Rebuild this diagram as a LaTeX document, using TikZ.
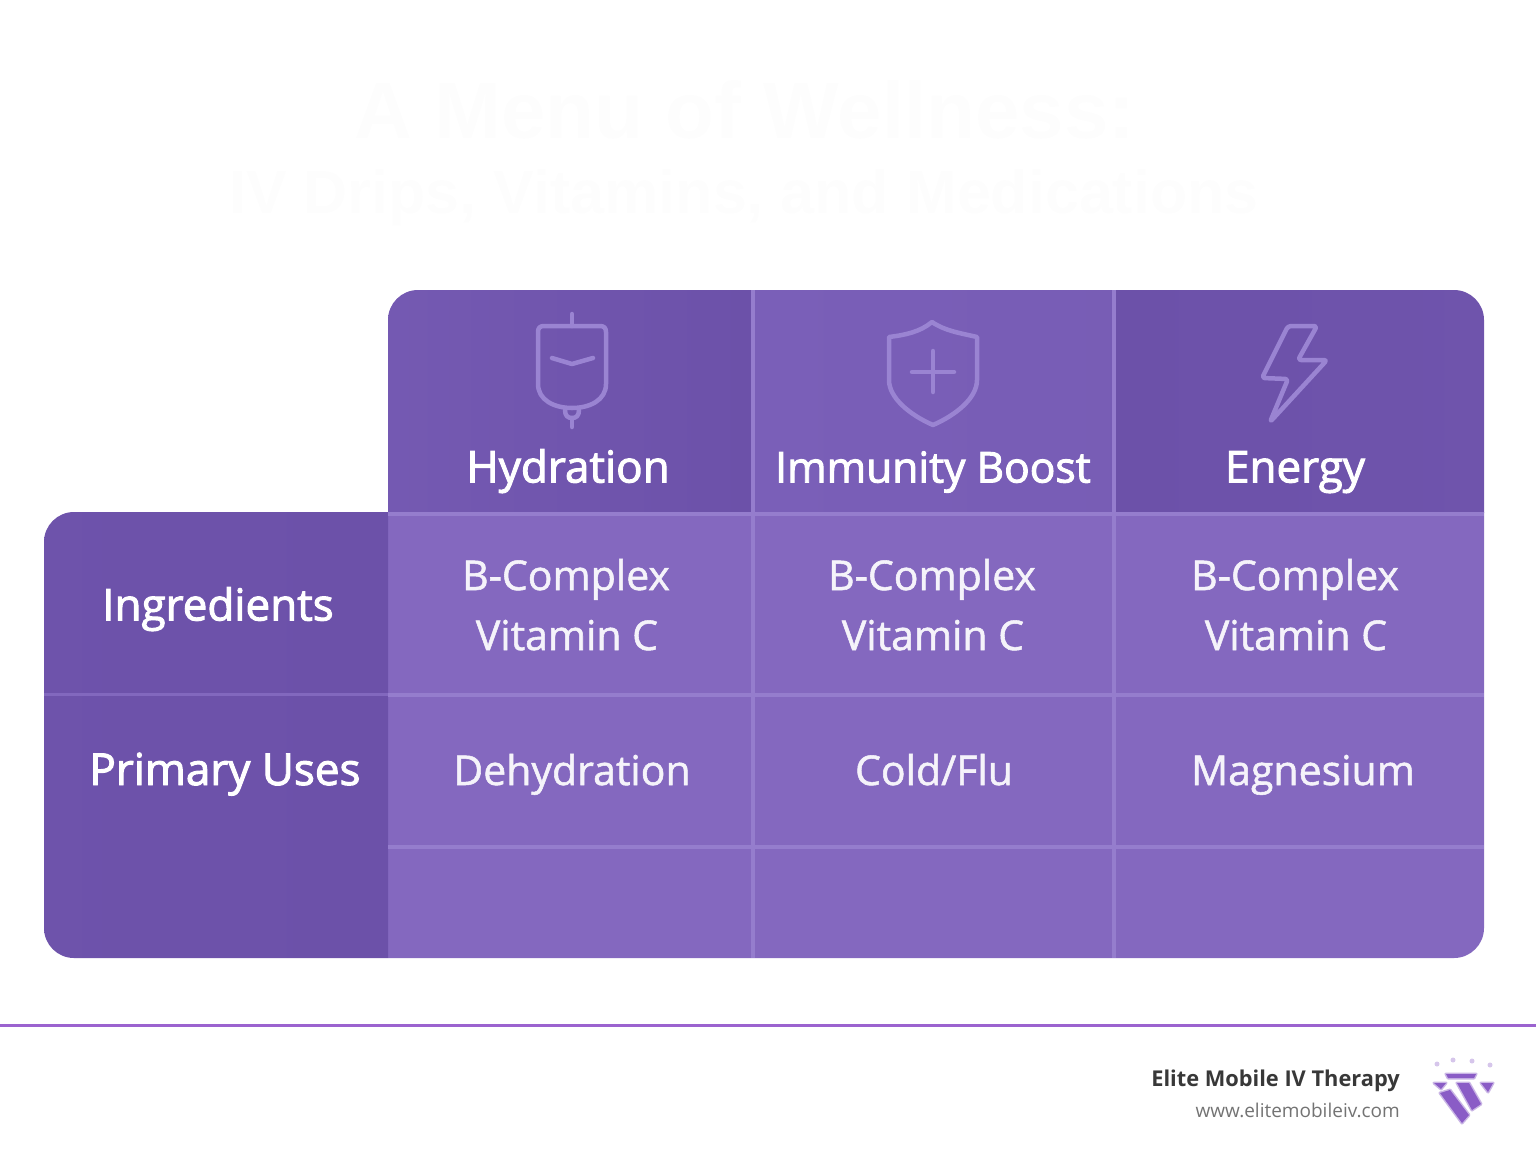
\documentclass[tikz,border=0pt]{standalone}
\usepackage{fontspec}
\setmainfont{Open Sans}
\newfontfamily\medfont[FakeBold=2.2]{Open Sans}
\newfontfamily\celfont[FakeBold=1.3]{Open Sans}
\newfontfamily\titlefont{Liberation Sans}
\definecolor{headcol}{HTML}{6C51A9}
\definecolor{headmid}{HTML}{7A5FB8}
\definecolor{bodycol}{HTML}{8468BF}
\definecolor{gridcol}{HTML}{957DCD}
\definecolor{iconcol}{HTML}{9A84D2}
\definecolor{rulecol}{HTML}{9B63CF}
\definecolor{logocol}{HTML}{8A5CC6}
\tikzset{
  headtext/.style={anchor=base,inner sep=0pt,text=white,font=\medfont\fontsize{44}{46}\selectfont},
  celltext/.style={anchor=base,inner sep=0pt,text=white!92!bodycol,font=\celfont\fontsize{41}{44}\selectfont},
  grid/.style={draw=gridcol,line width=4pt},
  icon/.style={draw=iconcol,line width=4.5pt,line cap=round,line join=round},
  ghost/.style={text=black!0.8},
  logopart/.style={fill=logocol,preaction={draw=logocol!45,line width=3pt,line join=round}},
  crownpart/.style={fill=logocol!35}
}
\begin{document}
\begin{tikzpicture}[x=1pt,y=-1pt]
   \useasboundingbox (0,0) rectangle (1536,1154);
   \node[ghost,font=\titlefont\bfseries\fontsize{80}{84}\selectfont] (title) at (745,110) {A Menu of Wellness:};
   \node[ghost,font=\titlefont\bfseries\fontsize{61}{64}\selectfont] (subtitle) at (744,198) {IV Drips, Vitamins, and Medications};
   % table panels
   \fill[bodycol] (388,512) -- (1484,512) [rounded corners=30pt] -- (1484,958) [sharp corners] -- (388,958) -- cycle;
   \shade[left color=headcol!88!headmid,right color=headcol] (388,512) [rounded corners=30pt] -- (44,512) -- (44,958) [sharp corners] -- (388,958) -- cycle;
   \shade[left color=headmid!60!headcol,right color=headcol] (751,513) -- (388,513) [rounded corners=30pt] -- (388,290) [sharp corners] -- (751,290) -- cycle;
   \shade[left color=headmid,right color=headmid!82!headcol] (751,290) rectangle (1113,513);
   \shade[left color=headcol,right color=headcol!80!headmid] (1113,513) -- (1113,290) [rounded corners=30pt] -- (1484,290) [sharp corners] -- (1484,513) -- cycle;
   % grid lines
   \draw[grid] (752.5,290) -- (752.5,958);
   \draw[grid] (1113.5,290) -- (1113.5,958);
   \draw[grid] (388,513.5) -- (1484,513.5);
   \draw[grid] (388,695) -- (1484,695);
   \draw[grid] (388,847) -- (1484,847);
   \draw[headmid!70!gridcol,line width=3pt] (44,694.5) -- (388,694.5);
   % drip bag
   \draw[icon] (572,314) -- (572,326);
   \draw[icon] (544,326) -- (600,326) .. controls (604,326) and (606,328) .. (606,332)
     -- (606,384) .. controls (606,400) and (590,408) .. (572,408)
     .. controls (554,408) and (538,400) .. (538,384) -- (538,332)
     .. controls (538,328) and (540,326) .. (544,326);
   \draw[icon] (552,358) -- (572,364) -- (593,358);
   \draw[icon] (565,410) .. controls (565,416) and (568,418) .. (572,418)
     .. controls (576,418) and (579,416) .. (579,410);
   \draw[icon] (572,418) -- (572,427);
   % shield
   \draw[icon] (932,322) .. controls (920,332) and (905,335) .. (889,337)
     -- (889,380) .. controls (889,398) and (910,415) .. (933,425)
     .. controls (956,415) and (977,398) .. (977,380) -- (977,337)
     .. controls (960,333) and (945,331) .. (932,322) -- cycle;
   \draw[icon] (933,351) -- (933,392);
   \draw[icon] (912,372) -- (954,372);
   % bolt
   \draw[icon,rounded corners=3pt] (1288,326) -- (1317,326) -- (1298,360) -- (1327,360) -- (1270,422)
     -- (1288,379) -- (1262,378) -- cycle;
   % header row
   \node[headtext] (hydration) at (568,482.5) {Hydration};
   \node[headtext,font=\medfont\fontsize{42.5}{46}\selectfont] (immunity) at (933,482.5) {Immunity Boost};
   \node[headtext] (energy) at (1295,482.5) {Energy};
   % left column
   \node[headtext] (ingredients) at (218,620.5) {Ingredients};
   \node[headtext] (uses) at (225,785) {Primary Uses};
   % cells
   \node[celltext] (bc1) at (566,590) {B-Complex};
   \node[celltext] (vc1) at (567,650) {Vitamin C};
   \node[celltext] (bc2) at (932,590) {B-Complex};
   \node[celltext] (vc2) at (933,650) {Vitamin C};
   \node[celltext] (bc3) at (1295,590) {B-Complex};
   \node[celltext] (vc3) at (1296,650) {Vitamin C};
   \node[celltext] (dehy) at (572,785) {Dehydration};
   \node[celltext] (cold) at (934,785) {Cold/Flu};
   \node[celltext] (magn) at (1303,785) {Magnesium};
   % footer
   \coordinate (ruleL) at (0,1025);
   \coordinate (ruleR) at (1536,1025);
   \draw[rulecol,line width=3pt] (ruleL) -- (ruleR);
   \node[anchor=base east,inner sep=0pt,text=black!78,font=\bfseries\fontsize{21.8}{25}\selectfont] (brand) at (1400,1086) {Elite Mobile IV Therapy};
   \node[anchor=base east,inner sep=0pt,text=black!55,font=\fontsize{19}{22}\selectfont] (site) at (1400,1117) {www.elitemobileiv.com};
   % logo
   \fill[crownpart] (1437,1064) circle (2.5);
   \fill[crownpart] (1453,1060) circle (2.5);
   \fill[crownpart] (1472,1061) circle (2.5);
   \fill[crownpart] (1490,1065) circle (2.5);
   \fill[logopart] (1446,1074) -- (1476,1074) -- (1474,1078) -- (1448,1078) -- cycle;
   \fill[logopart] (1434,1083) -- (1446,1083) -- (1441,1089) -- cycle;
   \fill[logopart] (1457,1083) -- (1469,1083) -- (1481,1104) -- (1472,1110) -- cycle;
   \fill[logopart] (1481,1083) -- (1493,1083) -- (1488,1092) -- cycle;
   \fill[logopart] (1440,1093) -- (1450,1090) -- (1469,1115) -- (1462,1123) -- cycle;
\end{tikzpicture}
\end{document}
